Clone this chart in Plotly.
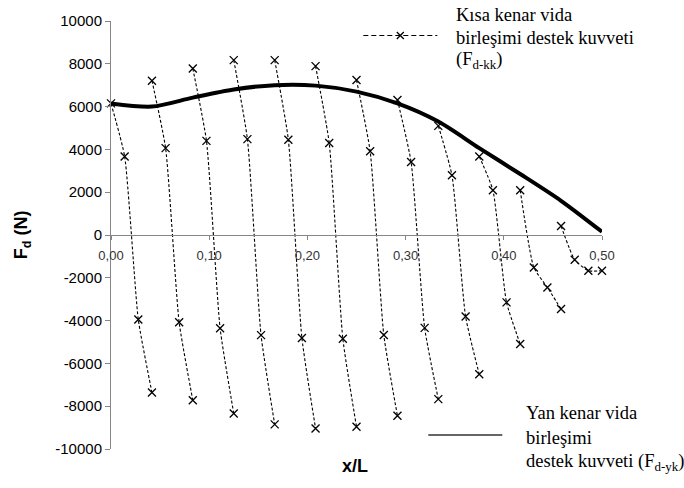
import plotly.graph_objects as go

# Side-edge screw joint support force along the edge (solid line)
yk_x = [0.0, 0.0417, 0.0833, 0.125, 0.1667, 0.2083, 0.25, 0.2917,
        0.3333, 0.375, 0.4167, 0.4583, 0.5]
yk_f = [6150, 6000, 6420, 6800, 7000, 6980, 6700, 6150,
        5300, 4060, 2850, 1600, 150]

# Short-edge screw joint support force profiles (dashed lines, 4 points each)
kk_x = [
    [0.0, 0.0139, 0.0278, 0.0417],
    [0.0417, 0.0556, 0.0694, 0.0833],
    [0.0833, 0.0972, 0.1111, 0.125],
    [0.125, 0.1389, 0.1528, 0.1667],
    [0.1667, 0.1806, 0.1944, 0.2083],
    [0.2083, 0.2222, 0.2361, 0.25],
    [0.25, 0.2639, 0.2778, 0.2917],
    [0.2917, 0.3056, 0.3194, 0.3333],
    [0.3333, 0.3472, 0.3611, 0.375],
    [0.375, 0.3889, 0.4028, 0.4167],
    [0.4167, 0.4306, 0.4444, 0.4583],
    [0.4583, 0.4722, 0.4861, 0.5],
]
kk_f = [
    [6150, 3670, -3950, -7360],
    [7210, 4060, -4080, -7720],
    [7780, 4400, -4360, -8340],
    [8170, 4480, -4680, -8850],
    [8170, 4450, -4810, -9040],
    [7890, 4300, -4850, -8960],
    [7240, 3910, -4670, -8450],
    [6310, 3410, -4340, -7670],
    [5100, 2790, -3810, -6510],
    [3670, 2090, -3150, -5090],
    [2090, -1520, -2450, -3460],
    [420, -1160, -1670, -1670],
]

x_ticks = [0.0, 0.1, 0.2, 0.3, 0.4, 0.5]
y_ticks = [10000, 8000, 6000, 4000, 2000, 0, -2000, -4000,
           -6000, -8000, -10000]

FIG_W, FIG_H = 684, 488
M_L, M_R, M_T, M_B = 110.7, 82.3, 19, 39
PW = FIG_W - M_L - M_R
PH = FIG_H - M_T - M_B


def px(p):
    return (p - M_L) / PW


def py(p):
    return (FIG_H - M_B - p) / PH


SANS = "Arial, Liberation Sans, sans-serif"
SERIF = "Times New Roman, Liberation Serif, serif"

fig = go.Figure()

for xs, fs in zip(kk_x, kk_f):
    fig.add_trace(go.Scatter(
        x=xs, y=fs, mode="lines+markers", cliponaxis=False,
        line=dict(color="black", width=1.1, dash="3px,2px",
                  shape="spline", smoothing=0.5),
        marker=dict(symbol="x-thin", size=8,
                    line=dict(color="black", width=1.3)),
        showlegend=False, hoverinfo="skip",
    ))

fig.add_trace(go.Scatter(
    x=yk_x, y=yk_f, mode="lines", cliponaxis=False,
    line=dict(color="black", width=4, shape="spline", smoothing=0.8),
    showlegend=False, hoverinfo="skip",
))

fig.update_xaxes(
    range=[0, 0.5], tickvals=x_ticks, tickformat=".2f",
    anchor="free", position=0.5,
    showline=True, linecolor="#868686", linewidth=1,
    ticks="outside", ticklen=4, tickcolor="#868686",
    tickfont=dict(family=SANS, size=13, color="#333333"),
    ticklabelstandoff=4,
    showgrid=False, zeroline=False,
)
fig.update_yaxes(
    range=[-10000, 10000], tickvals=y_ticks,
    ticktext=[str(v) for v in y_ticks],
    showline=True, linecolor="#868686", linewidth=1,
    ticks="outside", ticklen=5, tickcolor="#868686",
    tickfont=dict(family=SANS, size=15, color="black"),
    showgrid=False, zeroline=False,
)

annotations = [
    dict(x=px(22), y=py(234), text="<b>F<sub>d</sub> (N)</b>",
         textangle=-90, font=dict(family=SANS, size=18, color="black")),
    dict(x=px(355), y=py(466), text="<b>x/L</b>",
         font=dict(family=SANS, size=18, color="black")),
]
kk_lines = ["Kısa kenar vida", "birleşimi destek kuvveti",
            "(F<sub>d-kk</sub>)"]
for txt, yy in zip(kk_lines, [13, 36, 59]):
    annotations.append(dict(x=px(454), y=py(yy), text=txt, xanchor="left",
                            font=dict(family=SERIF, size=18.5, color="black")))
yk_lines = ["Yan kenar vida", "birleşimi",
            "destek kuvveti (F<sub>d-yk</sub>)"]
for txt, yy in zip(yk_lines, [413, 438, 463]):
    annotations.append(dict(x=px(524), y=py(yy), text=txt, xanchor="left",
                            font=dict(family=SERIF, size=18.5, color="black")))
for a in annotations:
    a.update(xref="paper", yref="paper", showarrow=False)
    a.setdefault("xanchor", "center")
    a.setdefault("yanchor", "middle")

shapes = [
    # legend sample: short-edge profile
    dict(type="line", xref="paper", yref="paper",
         x0=px(363), x1=px(437), y0=py(33.5), y1=py(33.5),
         line=dict(color="black", width=1.1, dash="5px,3px")),
    dict(type="path", xref="paper", yref="paper",
         xsizemode="pixel", ysizemode="pixel",
         xanchor=px(400), yanchor=py(33.5),
         path="M -3.5 -3.5 L 3.5 3.5 M -3.5 3.5 L 3.5 -3.5",
         line=dict(color="black", width=1.3)),
    # legend sample: side-edge force
    dict(type="line", xref="paper", yref="paper",
         x0=px(428), x1=px(502), y0=py(435), y1=py(435),
         line=dict(color="#333333", width=1.6)),
]

fig.update_layout(
    width=FIG_W, height=FIG_H,
    margin=dict(l=M_L, r=M_R, t=M_T, b=M_B),
    plot_bgcolor="white", paper_bgcolor="white",
    separators=", ",
    annotations=annotations, shapes=shapes,
    showlegend=False,
)

fig.write_html("out.html")
